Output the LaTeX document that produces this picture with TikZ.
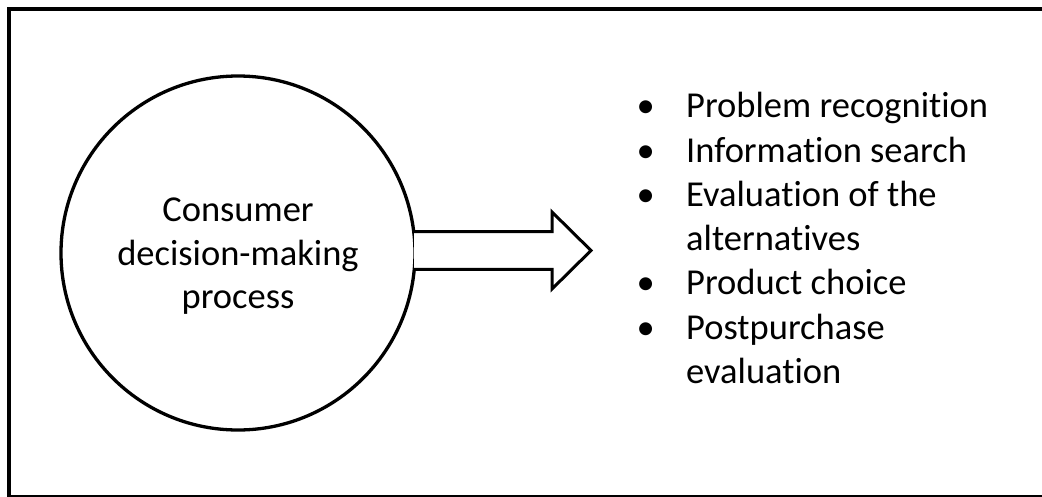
\documentclass[tikz,border=0pt]{standalone}
\usepackage{fontspec}
\setmainfont{Carlito}[Ligatures={NoCommon}]
\begin{document}
\begin{tikzpicture}[x=1pt,y=-1pt,
  txt/.style={anchor=base,inner sep=0pt,font=\fontsize{36.5}{44}\selectfont},
  itemtxt/.style={txt,anchor=base west},
  bul/.style={txt,anchor=base},
  stroke/.style={line width=3.3pt,draw=black}]
\useasboundingbox (0,0) rectangle (1042,496);
% frame
\draw[line width=3.7pt] (9.2,8.7) rectangle (1052,496.8);
% circle
\node[circle,stroke,minimum size=354pt,inner sep=0pt] (c) at (238,253) {};
\node[txt] (c1) at (238,221) {Consumer};
\node[txt] (c2) at (238,265) {decision-making};
\node[txt] (c3) at (238,308) {process};
% block arrow
\coordinate (a1) at (414,231.7);
\coordinate (a2) at (552,231.7);
\coordinate (a3) at (552,212);
\coordinate (tip) at (591,250.5);
\coordinate (a5) at (552,289);
\coordinate (a6) at (552,269.3);
\coordinate (a7) at (414,269.3);
\draw[line width=3pt,line join=miter,fill=white] (a1) -- (a2) -- (a3) -- (tip) -- (a5) -- (a6) -- (a7);
% list
\node[bul] (b1) at (645.7,117) {•};
\node[itemtxt] (t1) at (686,117) {Problem recognition};
\node[bul] (b2) at (645.7,162) {•};
\node[itemtxt] (t2) at (686,162) {Information search};
\node[bul] (b3) at (645.7,206) {•};
\node[itemtxt] (t3) at (686,206) {Evaluation of the};
\node[itemtxt] (t3b) at (686,250) {alternatives};
\node[bul] (b4) at (645.7,294) {•};
\node[itemtxt] (t4) at (686,294) {Product choice};
\node[bul] (b5) at (645.7,339) {•};
\node[itemtxt] (t5) at (686,339) {Postpurchase};
\node[itemtxt] (t5b) at (686,383) {evaluation};
\end{tikzpicture}
\end{document}
